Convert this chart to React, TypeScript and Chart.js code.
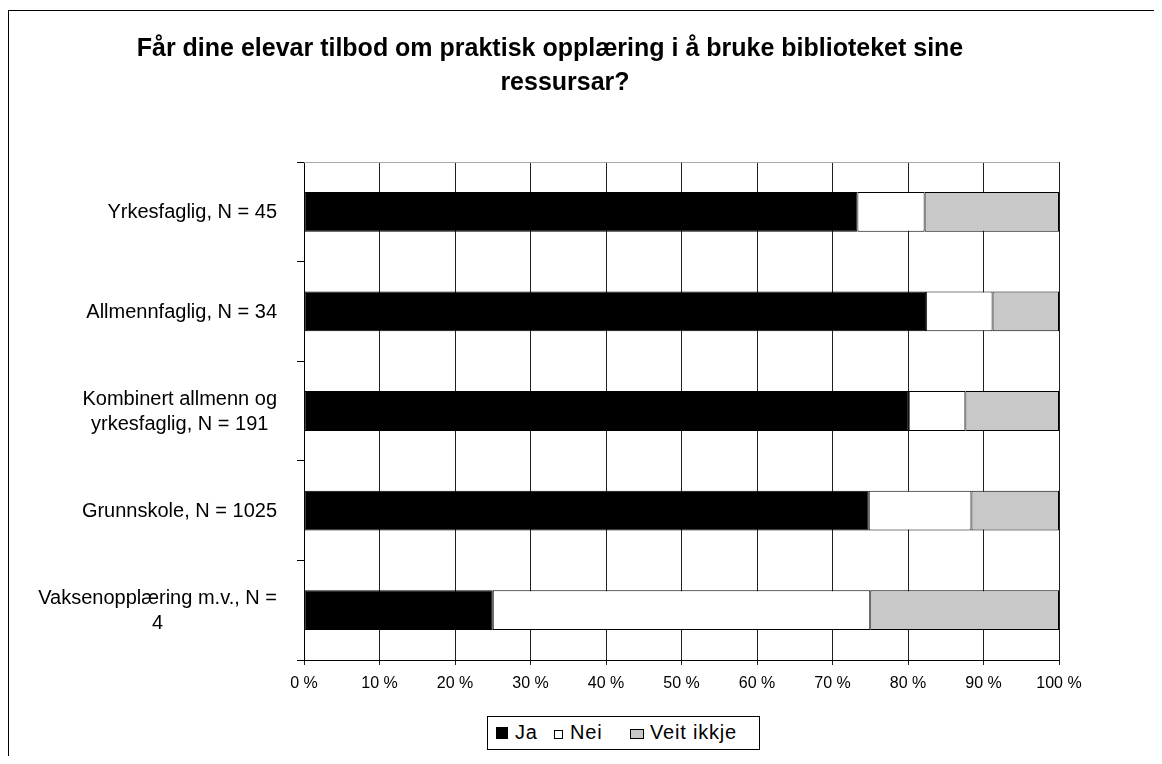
import React, { useEffect, useRef } from "react";
import { Chart, registerables } from "chart.js";

Chart.register(...registerables);

const titleLines = [
  "Får dine elevar tilbod om praktisk opplæring i å bruke biblioteket sine",
  "ressursar?",
];
const categories: string[][] = [
  ["Yrkesfaglig, N = 45"],
  ["Allmennfaglig, N = 34"],
  ["Kombinert allmenn og", "yrkesfaglig, N = 191"],
  ["Grunnskole, N = 1025"],
  ["Vaksenopplæring m.v., N =", "4"],
];
const seriesNames = ["Ja", "Nei", "Veit ikkje"];
const seriesColors = ["#000000", "#FFFFFF", "#C8C8C8"];
const jaValues = [73.3, 82.4, 80.1, 74.8, 25];
const neiValues = [8.9, 8.8, 7.5, 13.6, 50];
const veitValues = [17.8, 8.8, 12.4, 11.6, 25];
const xTickValues = [0, 10, 20, 30, 40, 50, 60, 70, 80, 90, 100];

const FONT = '"Liberation Sans", Arial, sans-serif';
const W = 1146;
const H = 748;

const topLinePlugin = {
  id: "topLine",
  beforeDatasetsDraw(chart: any) {
    const { ctx, chartArea } = chart;
    ctx.save();
    ctx.strokeStyle = "#A8A8A8";
    ctx.lineWidth = 1;
    ctx.beginPath();
    const y = Math.round(chartArea.top) + 0.5;
    ctx.moveTo(chartArea.left, y);
    ctx.lineTo(chartArea.right, y);
    ctx.stroke();
    ctx.restore();
  },
};

const yLabelPlugin = {
  id: "yLabels",
  afterDraw(chart: any) {
    const { ctx, chartArea } = chart;
    const ys = chart.scales.y;
    ctx.save();
    ctx.font = `20px ${FONT}`;
    ctx.fillStyle = "#000";
    ctx.textAlign = "center";
    ctx.textBaseline = "middle";
    const right = chartArea.left - 27;
    const lh = 25;
    categories.forEach((lines, i) => {
      const y = ys.getPixelForValue(i) + 1;
      const w = Math.max(...lines.map((l) => ctx.measureText(l).width));
      const cx = right - w / 2;
      lines.forEach((l, j) => {
        ctx.fillText(l, cx, y + (j - (lines.length - 1) / 2) * lh);
      });
    });
    ctx.restore();
  },
};

const seriesValues = [jaValues, neiValues, veitValues];

export default function App() {
  const ref = useRef<HTMLCanvasElement>(null);

  useEffect(() => {
    if (!ref.current) return;
    const chart = new Chart(ref.current, {
      type: "bar",
      data: {
        labels: categories.map((c) => c.join(" ")),
        datasets: seriesNames.map((name, k) => ({
          label: name,
          data: seriesValues[k],
          backgroundColor: seriesColors[k],
          borderColor: "#000",
          borderWidth: 1,
          borderSkipped: false,
          barPercentage: 0.4,
          categoryPercentage: 1,
        })),
      },
      options: {
        indexAxis: "y",
        responsive: false,
        animation: false,
        devicePixelRatio: 1,
        layout: { padding: { top: 154, left: 0, right: W - 1051, bottom: H - 652 - 40 } },
        plugins: {
          legend: { display: false },
          title: { display: false },
          tooltip: { enabled: false },
        },
        scales: {
          x: {
            stacked: true,
            min: 0,
            max: 100,
            afterBuildTicks: (axis: any) => {
              axis.ticks = xTickValues.map((v) => ({ value: v }));
            },
            afterFit: (axis: any) => {
              axis.height = 40;
            },
            ticks: {
              callback: (v: any) => `${v} %`,
              font: { family: FONT, size: 16 },
              color: "#000",
              padding: 9,
              maxRotation: 0,
            },
            grid: {
              color: "#202020",
              lineWidth: 1,
              tickLength: 5,
              tickColor: "#202020",
            },
            border: { color: "#000", width: 1 },
          },
          y: {
            stacked: true,
            afterFit: (axis: any) => {
              axis.width = 296;
            },
            ticks: { display: false },
            grid: {
              drawOnChartArea: false,
              offset: true,
              tickLength: 7,
              color: "#000",
              tickColor: "#000",
            },
            border: { color: "#000", width: 1 },
          },
        },
      },
      plugins: [topLinePlugin, yLabelPlugin],
    } as any);
    return () => chart.destroy();
  }, []);

  const legendItems = [
    { sq: { left: 9, top: 11, width: 12, height: 12 }, text: 28 },
    { sq: { left: 67, top: 14, width: 9, height: 9 }, text: 83 },
    { sq: { left: 143, top: 13, width: 14, height: 10 }, text: 163 },
  ];

  return (
    <div style={{ position: "relative", width: W, height: H, overflow: "hidden" }}>
      <div
        style={{
          position: "absolute",
          left: 0,
          top: 2,
          width: 2000,
          height: 2000,
          borderLeft: "1px solid #000",
          borderTop: "1px solid #000",
        }}
      />
      <canvas
        ref={ref}
        width={W}
        height={H}
        style={{ position: "absolute", left: 0, top: 0, width: W, height: H }}
      />
      <div
        style={{
          position: "absolute",
          left: 0,
          top: 22,
          width: 1084,
          textAlign: "center",
          fontFamily: FONT,
          fontWeight: "bold",
          fontSize: 25,
          lineHeight: "34px",
          color: "#000",
        }}
      >
        {titleLines.map((l, i) => (
          <div key={i} style={i > 0 ? { paddingLeft: 30 } : undefined}>
            {l}
          </div>
        ))}
      </div>
      <div
        style={{
          position: "absolute",
          left: 479,
          top: 708,
          width: 271,
          height: 32,
          border: "1px solid #000",
          background: "#fff",
          fontFamily: FONT,
          fontSize: 20,
          letterSpacing: "0.8px",
          color: "#000",
        }}
      >
        {seriesNames.map((name, k) => (
          <React.Fragment key={k}>
            <div
              style={{
                position: "absolute",
                left: legendItems[k].sq.left - 1,
                top: legendItems[k].sq.top - 1,
                width: legendItems[k].sq.width - 2,
                height: legendItems[k].sq.height - 2,
                background: seriesColors[k],
                border: "1px solid #000",
              }}
            />
            <div
              style={{
                position: "absolute",
                left: legendItems[k].text - 1,
                top: 5,
                lineHeight: "20px",
                whiteSpace: "nowrap",
              }}
            >
              {name}
            </div>
          </React.Fragment>
        ))}
      </div>
    </div>
  );
}
